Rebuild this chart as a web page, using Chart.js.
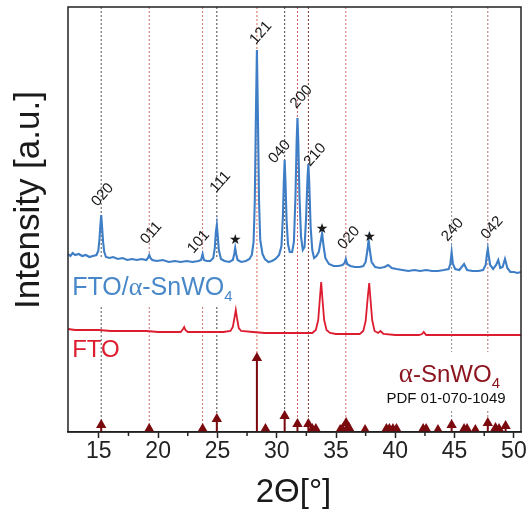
<!DOCTYPE html>
<html><head><meta charset="utf-8">
<script src="https://cdn.jsdelivr.net/npm/chart.js@4/dist/chart.umd.min.js"></script>
<style>html,body{margin:0;padding:0;background:#fff}canvas{display:block}</style>
</head><body>
<canvas id="c" width="527" height="513"></canvas>
<script>
// ---------- DATA ----------
const blueSeries = [[12.4,178],[12.6,176],[12.8,179],[13.0,177],[13.3,178],[13.6,176],[13.9,177],[14.2,175],[14.5,176],[14.8,177],[14.95,181],[15.05,192],[15.12,205],[15.2,217],[15.28,204],[15.36,190],[15.46,180],[15.6,175],[15.9,174],[16.2,175],[16.6,173],[17.0,174],[17.4,172],[17.8,173],[18.2,172],[18.6,173],[19.0,172],[19.15,174],[19.25,177],[19.35,174],[19.5,172],[19.9,171],[20.4,172],[20.9,170],[21.4,171],[21.9,170],[22.4,171],[22.9,170],[23.4,171],[23.62,172],[23.75,178],[23.86,172],[24.1,171],[24.4,171],[24.65,174],[24.78,184],[24.87,200],[24.95,207],[25.03,196],[25.12,182],[25.3,173],[25.6,171],[26.0,170],[26.3,172],[26.42,178],[26.5,184],[26.58,178],[26.7,172],[27.0,170],[27.4,171],[27.7,173],[27.9,177],[28.05,190],[28.15,230],[28.25,320],[28.33,382],[28.41,320],[28.51,230],[28.61,192],[28.8,178],[29.0,173],[29.3,170],[29.6,171],[29.9,173],[30.2,177],[30.4,186],[30.52,215],[30.6,250],[30.67,272],[30.74,250],[30.83,212],[30.95,188],[31.1,180],[31.3,180],[31.45,190],[31.58,235],[31.68,290],[31.75,314],[31.82,290],[31.92,235],[32.05,195],[32.2,182],[32.35,185],[32.48,215],[32.6,255],[32.67,268],[32.74,250],[32.86,205],[33.0,182],[33.15,174],[33.35,176],[33.55,180],[33.7,190],[33.83,199],[33.95,186],[34.1,174],[34.4,168],[34.8,166],[35.2,166],[35.55,167],[35.72,169],[35.83,173],[35.94,168],[36.2,166],[36.6,165],[37.0,165],[37.3,166],[37.5,170],[37.65,182],[37.75,192],[37.85,182],[38.0,170],[38.3,165],[38.7,164],[39.1,165],[39.4,167],[39.7,164],[40.1,163],[40.6,162],[41.1,161],[41.6,162],[42.1,161],[42.6,162],[43.1,161],[43.6,161],[44.1,162],[44.5,163],[44.64,168],[44.75,180],[44.86,168],[45.05,163],[45.4,162],[45.8,168],[46.05,162],[46.5,161],[47.0,161],[47.4,162],[47.62,167],[47.72,177],[47.8,183],[47.88,176],[48.0,167],[48.25,163],[48.5,167],[48.68,172],[48.85,164],[49.05,165],[49.25,173],[49.45,164],[49.7,160],[50.0,160],[50.3,159],[50.6,160]];

const redSeries = [[12.4,103],[13.0,102],[14.0,102],[15.0,102],[16.0,101],[17.0,101],[18.0,101],[19.0,101],[20.0,100],[21.0,100],[21.9,100],[22.1,103],[22.2,105],[22.3,102],[22.5,100],[23.5,100],[24.5,100],[25.5,100],[26.1,101],[26.3,105],[26.45,115],[26.55,122],[26.65,114],[26.8,104],[27.0,101],[28.0,100],[29.0,99],[30.0,99],[31.0,99],[32.0,99],[33.0,99],[33.3,102],[33.5,112],[33.65,135],[33.75,150],[33.85,134],[34.0,112],[34.2,102],[34.5,99],[35.0,98],[36.0,98],[37.0,98],[37.3,101],[37.5,111],[37.68,135],[37.8,149],[37.9,134],[38.05,112],[38.25,101],[38.55,99],[38.75,101],[39.0,98],[40.0,97],[41.0,97],[42.0,97],[42.25,98],[42.4,100],[42.6,97],[43.0,97],[44.0,97],[45.0,97],[46.0,97],[47.0,97],[48.0,97],[49.0,97],[50.0,97],[50.6,97]];

// reference pattern (PDF 01-070-1049): positions and stick heights
const refPos     = [15.2,19.25,23.75,24.95,28.33,29.05,30.67,31.75,32.67,33.0,33.3,35.35,35.55,35.85,36.1,37.45,39.25,39.5,39.8,40.1,42.35,42.6,43.6,44.75,45.8,46.05,46.75,47.8,48.45,48.75,49.3];
const refHeight  = [7,3,3,13,74,3,16,8,8,3,3,2,3,9,4,2,3,3,3,3,3,3,2,7,3,3,2,9,4,3,6];

// dashed guide lines (indexed alpha-SnWO4 reflections)
const guidePos = [15.2,19.25,23.75,24.95,28.33,30.67,31.75,32.67,35.83,44.75,47.8];

// peak labels
const peakText = ['020','011','101','111','121','040','200','210','020','240','042'];
const peakLabX = [15.33,19.42,23.42,25.25,28.67,30.25,32.08,33.25,36.08,44.83,48.17];
const peakLabY = [237,199,190,250,399,280,335,277,194,202,204];
const starX = [26.5,33.83,37.83];
const starY = [192,203,195];

const xTicks = [15,20,25,30,35,40,45,50];
const xMinorTicks = [17.5,22.5,27.5,32.5,37.5,42.5,47.5];
const X_MIN = 12.4, X_MAX = 50.6, Y_MIN = 0, Y_MAX = 425;

// ---------- STYLE ----------
const SANS = '"Liberation Sans", Arial, "DejaVu Sans", sans-serif';
const SERIF = '"Liberation Serif", "Times New Roman", serif';
const BLUE = 'rgb(62,126,198)';
const RED = 'rgb(222,28,48)';
const MAROON = 'rgb(122,10,14)';
const guideColors = ['#555','#c87070','#c87070','#444','#d27050','#444','#c86060','#7a3030','#c87070','#888','#b07070'];

// ---------- BUILD ----------
const toPts = arr => arr.map(p => ({x:p[0], y:p[1]}));
const stickPts = [];
refPos.forEach((p,i) => { stickPts.push({x:p,y:0},{x:p,y:refHeight[i]},{x:p,y:null}); });
const triPts = refPos.map((p,i) => ({x:p, y:refHeight[i]}));

const datasets = [];
guidePos.forEach((p,i) => datasets.push({
  data:[{x:p,y:Y_MAX},{x:p,y:Y_MIN}], showLine:true, borderColor:guideColors[i],
  borderWidth:1, borderDash:[2,2], pointRadius:0, order:10, tension:0
}));
const stickIndex = datasets.length;
datasets.push({data:stickPts, showLine:true, spanGaps:false, borderColor:MAROON, borderWidth:2, pointRadius:0, order:4});
datasets.push({data:triPts, showLine:false, pointStyle:'triangle', pointRadius:6, pointBackgroundColor:MAROON, pointBorderColor:MAROON, pointBorderWidth:0, order:3});
datasets.push({data:toPts(redSeries), showLine:true, borderColor:RED, borderWidth:1.8, pointRadius:0, tension:0, order:2});
datasets.push({data:toPts(blueSeries), showLine:true, borderColor:BLUE, borderWidth:2.1, pointRadius:0, tension:0, order:1});

function runsWidth(ctx, runs){ let w=0; for(const r of runs){ctx.font=r.font; w+=ctx.measureText(r.t).width;} return w; }
function drawRuns(ctx, x, y, runs){ let cx=x; for(const r of runs){ ctx.font=r.font; ctx.fillStyle=r.color; ctx.textBaseline='alphabetic'; ctx.textAlign='left'; ctx.fillText(r.t, cx, y+(r.dy||0)); cx+=ctx.measureText(r.t).width; } return cx; }

const LBLUE = 'rgb(72,136,200)';
const blueRuns = [
  {t:'FTO/', font:'25px '+SANS, color:LBLUE},
  {t:'α', font:'26px '+SERIF, color:LBLUE},
  {t:'-SnWO', font:'25px '+SANS, color:LBLUE},
  {t:'4', font:'15px '+SANS, color:LBLUE, dy:6}];
const redRuns = [{t:'FTO', font:'24px '+SANS, color:RED}];
const refRuns = [
  {t:'α', font:'27px '+SERIF, color:'rgb(140,22,32)'},
  {t:'-SnWO', font:'24px '+SANS, color:'rgb(140,22,32)'},
  {t:'4', font:'15px '+SANS, color:'rgb(140,22,32)', dy:6}];
const pdfRuns = [{t:'PDF 01-070-1049', font:'15px '+SANS, color:'#111'}];
// label anchors in data coordinates
const blueLab = {x:12.75, y:137}, redLab = {x:12.75, y:75}, refLab = {x:40.3, y:50}, pdfLab = {x:39.25, y:29};

const annot = {
  id:'annot',
  beforeDatasetDraw(chart, args){
    if (args.index !== stickIndex) return;
    const {ctx, chartArea:a, scales:{x,y}} = chart;
    ctx.save(); ctx.fillStyle='#fff';
    const bx = x.getPixelForValue(blueLab.x), by = y.getPixelForValue(blueLab.y);
    const bw = runsWidth(ctx, blueRuns);
    ctx.fillRect(a.left+1, by-36, bx-a.left+bw+6, 48);
    const rx = x.getPixelForValue(pdfLab.x)-5, ry = y.getPixelForValue(refLab.y)-30;
    const pyb = y.getPixelForValue(pdfLab.y)+7;
    ctx.fillRect(rx, ry, a.right-rx-1, pyb-ry);
    ctx.restore();
  },
  afterDatasetsDraw(chart){
    const {ctx, chartArea:a, scales:{x,y}} = chart;
    ctx.save();
    drawRuns(ctx, x.getPixelForValue(blueLab.x), y.getPixelForValue(blueLab.y), blueRuns);
    drawRuns(ctx, x.getPixelForValue(redLab.x), y.getPixelForValue(redLab.y), redRuns);
    drawRuns(ctx, x.getPixelForValue(refLab.x), y.getPixelForValue(refLab.y), refRuns);
    drawRuns(ctx, x.getPixelForValue(pdfLab.x), y.getPixelForValue(pdfLab.y), pdfRuns);
    ctx.fillStyle='#1a1a1a'; ctx.textAlign='center'; ctx.textBaseline='middle';
    ctx.font='15px '+SANS;
    peakText.forEach((t,i)=>{
      ctx.save(); ctx.translate(x.getPixelForValue(peakLabX[i]), y.getPixelForValue(peakLabY[i]));
      ctx.rotate(-Math.PI*0.27); ctx.fillText(t,0,0); ctx.restore();
    });
    ctx.font='14px "DejaVu Sans", sans-serif';
    starX.forEach((v,i)=>ctx.fillText('★', x.getPixelForValue(v), y.getPixelForValue(starY[i])));
    ctx.strokeStyle='#222'; ctx.lineWidth=1.5;
    ctx.strokeRect(a.left, a.top, a.right-a.left, a.bottom-a.top);
    xMinorTicks.forEach(v=>{ const px=x.getPixelForValue(v); ctx.beginPath(); ctx.moveTo(px,a.bottom); ctx.lineTo(px,a.bottom+4); ctx.stroke(); });
    ctx.fillStyle='#1a1a1a'; ctx.textAlign='center'; ctx.textBaseline='middle';
    ctx.font='35px '+SANS;
    ctx.save(); ctx.translate(29, 200); ctx.rotate(-Math.PI/2); ctx.fillText('Intensity [a.u.]',0,0); ctx.restore();
    ctx.font='33px '+SANS;
    ctx.fillText('2Θ[°]', (a.left+a.right)/2 - 1, 493);
    ctx.restore();
  }
};

new Chart(document.getElementById('c'), {
  type:'scatter',
  data:{datasets},
  options:{
    responsive:false, animation:false, events:[],
    layout:{padding:{left:68, top:7, right:2, bottom:0}},
    plugins:{legend:{display:false}, tooltip:{enabled:false}},
    scales:{
      x:{type:'linear', min:X_MIN, max:X_MAX,
        afterBuildTicks:s=>{ s.ticks = xTicks.map(v=>({value:v})); },
        afterFit:s=>{ s.height = 81; },
        grid:{drawOnChartArea:false, drawTicks:true, tickLength:6, tickColor:'#222', tickWidth:1.5},
        border:{display:true, color:'#222', width:1.5},
        ticks:{font:{family:SANS, size:23}, color:'#222', padding:0, maxRotation:0, autoSkip:false}},
      y:{display:false, min:Y_MIN, max:Y_MAX}
    }
  },
  plugins:[annot]
});
</script>
</body></html>
